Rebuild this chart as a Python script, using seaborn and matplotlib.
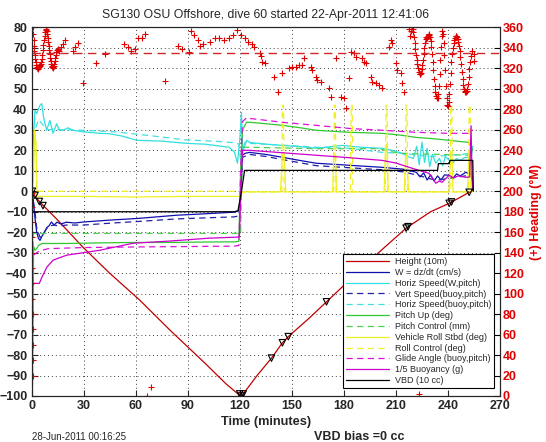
import matplotlib
matplotlib.use('Agg')
import matplotlib.pyplot as plt
import seaborn as sns

# Data
title_txt = 'SG130 OSU Offshore, dive 60 started 22-Apr-2011 12:41:06'
stamp_txt = '28-Jun-2011 00:16:25'
vbd_txt = 'VBD bias =0 cc'

height_t = [0, 1, 3, 6.6, 15, 29.6, 45, 62.4, 80, 100, 112, 119, 121, 122, 130, 138.3, 144.6, 148,
            160, 170, 185, 200, 215.9, 230, 240.7, 248, 252.2, 254]
height_v = [0, -1, -3.5, -6.8, -14, -27.3, -40, -53.2, -68, -84, -94, -99, -100, -99, -90, -81.5, -74, -71,
            -62, -54, -42, -30, -18, -10, -5.9, -2.5, -0.5, 0]
hmark_t = [0.5, 2, 4.5, 6.6, 120, 121, 122, 138.3, 144.6, 148, 170, 215.9, 217, 240.7, 242, 252.2]
hmark_v = [0, -2, -5, -7, -99, -100, -99, -81.5, -74, -71, -54, -18, -17.3, -5.9, -5.2, -0.5]

w_t = [0, 1, 2, 3, 4, 4.9, 6, 7.5, 8.9, 10, 11.5, 13, 14.7, 17, 20, 25, 30, 45, 62.4, 83.7, 100, 117,
       119.5, 120.5, 121.6, 123, 125.6, 135, 144.6, 155, 164, 183, 202, 214, 221.7, 224, 226, 228, 230,
       232, 234, 236, 238, 240.7, 243, 245, 247, 250.4, 252, 253.5, 254.3]
w_v = [0, -4, -13, -20, -23, -24, -22, -20, -17.6, -17, -15, -16.5, -15.1, -16, -15.1, -15.5, -15, -14.1,
       -13.2, -11.7, -11, -10.2, -9.5, -2, 17.6, 18.5, 19, 18, 16.6, 15, 13.7, 12.7, 11.7, 10.8, 9.3, 7,
       9, 5.5, 8, 5, 7.5, 5.5, 8, 7.8, 6.5, 8.5, 7.5, 9.3, 8.5, 9, 0]

hspd_t = [0, 0.5, 0.9, 2, 3, 4.9, 5.9, 7, 8.7, 10.6, 12.4, 14.5, 16, 18.1, 21, 24, 30, 39.4, 45, 52,
          60.7, 75, 89.4, 100, 114, 117, 118.7, 120, 121, 121.6, 124, 125.6, 135, 144.6, 155, 164, 179,
          190, 202, 208, 213.6, 217, 220, 222, 223.4, 225, 226.5, 228, 229.5, 231, 233, 235, 237, 238.5,
          240.7, 243, 245, 247, 249.5, 252, 253.5, 254.3]
hspd_v = [0, 8, 21.5, 39.5, 38, 42, 42.8, 36, 29.8, 34.6, 28.3, 33, 30, 29.8, 31, 29.8, 29, 28.3, 28.1,
          27, 24.9, 24.5, 23.4, 23, 21.5, 19, 13.7, 25, 38.5, 19, 24.9, 23.9, 23, 22.4, 21.8, 21, 22.4,
          21.5, 21, 20, 18.5, 17, 16, 22, 13, 24, 14, 21, 12, 18, 13.7, 16, 12.5, 17, 15.1, 14, 16, 15,
          16.5, 16.6, 17, 22]

vspd_t = [0, 2, 3, 4.9, 6, 8, 10, 13, 16, 20, 30, 45, 62.4, 83.7, 100, 117, 119.5, 120.5, 121.6, 125.6,
          135, 144.6, 164, 183, 202, 214, 221.7, 226, 230, 234, 238, 242, 246, 250, 253.5, 254.3]
vspd_v = [0, -10, -18, -22.5, -22, -19, -17, -16.5, -17, -16.5, -16.5, -15.6, -14.7, -13.5, -13, -12.5,
          -12, -4, 16.6, 18, 17, 15.5, 12.5, 11.5, 10.5, 9.5, 8, 7, 6, 5.5, 6, 6.5, 7, 7.5, 8, 0]

hbuoy_t = [0, 1, 2, 4, 6, 8, 10, 13, 16, 20, 30, 49, 70, 90, 105, 117, 119.5, 120.5, 121.6, 123, 125.6,
           145, 164, 183, 202, 215, 222, 230, 240.7, 248, 252, 254.3]
hbuoy_v = [0, 15, 30, 35, 33, 31, 30, 30.5, 30, 30, 29.8, 29, 27, 25, 24.5, 23.7, 23, 15, 20, 24, 23.4,
           22.5, 21.5, 21, 19, 18.5, 17.6, 17, 17.6, 18, 18.5, 20]

pitch_t = [0, 0.4, 1.2, 2, 3, 4, 6, 10, 20, 40, 60, 80, 100, 117, 119.5, 120.5, 121.6, 123.9, 125.6,
           135, 144.6, 155, 164, 183, 202, 212, 221.7, 230, 240.7, 247, 252, 254.3]
pitch_v = [40, -105, -27, -28.8, -28, -26.5, -25.5, -25.5, -25.5, -25.2, -25, -25, -24.8, -24.7, -24.5,
           10, 30, 33.7, 33.7, 33, 32.2, 31, 29.8, 28.8, 28.3, 27.5, 26.3, 25.8, 24.9, 24.3, 23.9, 20]

pctl_t = [0, 0.5, 1, 119.5, 120.5, 121.6, 125.6, 164, 183, 200, 212, 254.3]
pctl_v = [-105, -105, -20.6, -20.6, -20.6, 21.5, 21.5, 20.8, 20.8, 20.8, 18.5, 17.6]

roll_t = [0, 1, 1.8, 2.6, 3.2, 4, 10, 30, 60, 90, 117, 119.5, 121, 122.5, 125, 143.5, 144.5, 145.5,
          146.5, 173.5, 174.2, 175, 175.8, 203.2, 204, 204.8, 205.6, 214.8, 215.6, 216.4, 217.2, 240.6,
          241.4, 242.2, 243, 251.3, 252, 252.8, 253.5, 254.3]
roll_v = [0, 5, 30, 22, -3, -2.5, -2.5, -2.5, -2.8, -2.5, -2.5, -2.5, -1, -0.3, -0.3, -0.3, 18, 19,
          -0.3, -0.3, 19, 18, -0.3, -0.3, 22, 23, -0.3, -0.3, 17, 18, -0.3, -0.3, 19, 18, -0.3, -0.3,
          17, 18, -0.3, 0]

rctl_t = [0, 1, 1.5, 2.5, 3, 119.5, 121, 144.2, 144.6, 145.2, 145.6, 174.1, 174.5, 175.1, 175.5,
          183.8, 184.2, 184.8, 185.2, 203.9, 204.3, 204.9, 205.3, 215.4, 215.8, 216.4, 216.8, 241.2,
          241.6, 242.2, 242.6, 251.8, 252.2, 252.8, 253.2, 254.3]
rctl_v = [0, 0, 25, 25, 0, 0, -0.3, -0.3, 42, 42, -0.3, -0.3, 42, 42, -0.3, -0.3, 42, 42, -0.3, -0.3,
          42, 42, -0.3, -0.3, 42, 42, -0.3, -0.3, 42, 42, -0.3, -0.3, 42, 42, -0.3, -0.3]

glide_t = [0, 0.5, 1.5, 3, 5, 10, 30, 60, 90, 117, 119.5, 120.5, 121.6, 124, 125.6, 144.6, 164, 183,
           202, 221.7, 240.7, 252, 254.3]
glide_v = [0, -30, -31, -30, -29, -28, -27.5, -27.2, -27, -26.8, -26.5, 10, 34, 36, 35.6, 33.7, 32.2,
           30.7, 29.8, 28.8, 28.3, 28.3, 30]

buoy_t = [0, 0.6, 1.5, 4.5, 6, 8.9, 12.4, 16, 20.4, 30, 39.4, 58.4, 80, 102.6, 118.8, 119.8, 120.8,
          121.6, 125.6, 145, 164, 183, 202, 210, 217.6, 223, 229, 231, 233, 235, 236.6, 238.5, 240.7,
          243, 246, 250.4, 252.5, 253.3, 253.8, 254.3]
buoy_v = [40, -46, -45, -45, -42, -37, -33.7, -32.5, -31.2, -30, -28.8, -25.4, -24.3, -22.9, -22.4, -22,
          5, 20, 20, 18.8, 17.6, 16.4, 15.1, 13.8, 11.7, 10.3, 8.8, 6.5, 3.9, 5, 4.4, 6, 7.8, 6.5, 7.5,
          6.8, 7, 32, 10, 1.5]

vbd_t = [0, 0.7, 117, 119, 121, 122.8, 234, 234.5, 240.7, 241.2, 254.3, 254.6]
vbd_v = [30, -10, -10, -9.5, 0, 10.2, 10.2, 13.5, 13.5, 15.1, 15.1, 0]

# heading (right axis, degrees)
head_t = [0.2, 0.25, 0.3, 0.35, 0.4, 0.45, 0.5, 0.55, 0.6, 0.65, 0.7, 0.75, 0.8,
          0.9, 1.1, 1.3, 1.5, 1.7, 1.9, 2.1, 2.4, 2.7, 3.0, 3.3, 3.6, 3.9, 4.2, 4.5, 4.8, 5.1, 5.4,
          5.7, 6.0, 6.3, 6.6, 6.9, 7.2, 7.5, 7.8, 8.1, 8.4, 8.7, 9.0, 9.3, 9.6, 9.9, 10.2, 10.5, 10.8,
          11.1, 11.4, 11.7, 12.0, 12.3, 12.6, 12.9, 13.2, 13.5, 13.8, 14.1, 14.4, 14.7, 15.0, 15.4, 15.8,
          17.0, 18.1, 19.3, 23.9, 25.0, 26.7, 29.6, 37.1, 42.3, 53.2, 55.5, 57.2, 59.5, 61.2, 63.5, 65.3,
          66.4, 69.0, 76.8, 84.2, 86.5, 90.6, 91.7, 93.4, 95.7, 96.9, 98.6, 102.6, 105.5, 107.8, 110.7,
          113.6, 115.9, 118.7, 120.5, 122.8, 124.5, 126.8, 128.5, 131.4, 132.0, 133.1, 134.8, 140.0,
          141.8, 144.6, 148.6, 150.4, 152.7, 154.4, 156.1, 157.3, 161.3, 161.9, 164.2, 164.8, 167.0,
          171.6, 172.8, 175.7, 178.5, 180.3, 181.4, 183.2, 184.3, 186.0, 187.2, 190.6, 191.8, 192.9,
          195.8, 196.4, 198.7, 200.4, 202.1, 206.1, 207.3, 207.9, 210.2, 210.8, 213.1, 213.6, 214.8,
          217.6, 218.4, 218.8, 219.2, 219.6, 220.0, 220.4, 220.8, 221.2, 221.6, 222.0, 222.4, 222.8,
          223.2, 223.4, 223.6, 224.0, 224.4, 224.8, 225.2, 225.6, 226.0, 226.4, 226.8, 227.2, 227.6,
          228.0, 228.4, 228.8, 229.2, 229.6, 230.0, 230.4, 230.8, 231.2, 231.6, 232.0, 232.4, 232.8,
          233.2, 233.6, 234.0, 234.4, 234.8, 235.2, 235.6, 236.0, 236.4, 236.8, 237.2, 237.6, 238.0,
          238.4, 238.8, 239.2, 239.6, 240.0, 240.4, 240.8, 241.2, 241.6, 242.0, 242.4, 242.8, 243.2,
          243.6, 244.0, 244.4, 244.8, 245.2, 245.6, 246.0, 246.4, 246.8, 247.2, 247.6, 248.0, 248.4,
          248.8, 249.2, 249.6, 250.0, 250.4, 250.8, 251.2, 251.6, 252.0, 252.4, 252.8, 253.2, 253.6,
          254.8, 254.9]
head_v = [198, 185, 170, 155, 140, 125, 110, 95, 80, 65, 50, 35, 20,
          360, 354, 348, 342, 337, 333, 329, 326, 323, 321, 320, 319, 320, 321, 322, 322, 323, 324,
          326, 329, 333, 338, 343, 348, 352, 356, 358, 359, 357, 354, 350, 346, 342, 338, 334, 330,
          327, 324, 322, 321, 320, 321, 322, 324, 327, 330, 333, 336, 338, 339, 338, 337,
          340.5, 343.4, 347.3, 336.6, 340.5, 344.4, 305.4, 324.9, 333.7, 343.4, 340.5, 336.6, 338.5,
          349.3, 350.2, 354.1, 0, 8.8, 308, 342.4, 338.5, 335.6, 356.1, 352.2, 347.3, 342.4, 343.4,
          345.4, 349.3, 349.3, 347.3, 349.3, 352.2, 357.1, 352.2, 349.3, 345.4, 343.4, 340.5, 334.6,
          331.7, 325.9, 324.9, 311.2, 296.6, 315.1, 320.0, 321.0, 321.0, 322.9, 322.9, 329.8, 321.0,
          318.0, 311.2, 308.3, 306.3, 300.5, 291.7, 329.8, 291.7, 290.7, 281.0, 310.2, 335.6, 334.6,
          330.7, 329.8, 325.9, 324.9, 311.2, 306.3, 305.4, 303.4, 300.5, 340.5, 347.3, 344.4, 324.9,
          318.0, 315.1, 305.4, 296.6, 359.0, 352, 357, 360, 359, 356, 351, 345, 339, 333, 328, 324,
          320, 317, 2, 315, 315, 316, 319, 323, 328, 334, 340, 345, 349, 351, 350, 352, 354, 353, 351,
          347, 341, 334, 326, 318, 310, 303, 297, 293, 291, 291, 295, 303, 315, 328, 341, 352, 357,
          354, 345, 333, 318, 303, 291, 284, 283, 287, 295, 305, 316, 326, 334, 340, 345, 348, 350,
          352, 352, 351, 349, 346, 342, 337, 331, 324, 317, 310, 304, 300, 298, 297, 297, 298, 300,
          305, 312, 319, 326, 332, 337, 334, 327]
head_target = 335

# Plot
sns.set_style('ticks')
plt.rcParams['font.family'] = ['Liberation Sans', 'DejaVu Sans']

fig = plt.figure(figsize=(5.46, 4.42), dpi=100)
ax = fig.add_axes([0.0577, 0.1041, 0.8581, 0.8337])

lw = 0.9
dash = (0, (5, 3.5))
series = [
    (height_t, height_v, '#C00000', '-', 'Height (10m)'),
    (w_t, w_v, '#1010B0', '-', 'W = dz/dt (cm/s)'),
    (hspd_t, hspd_v, '#30E0E0', '-', 'Horiz Speed(W,pitch)'),
    (vspd_t, vspd_v, '#2020A8', dash, 'Vert Speed(buoy,pitch)'),
    (hbuoy_t, hbuoy_v, '#40E0E0', dash, 'Horiz Speed(buoy,pitch)'),
    (pitch_t, pitch_v, '#30C830', '-', 'Pitch Up (deg)'),
    (pctl_t, pctl_v, '#50D050', dash, 'Pitch Control (mm)'),
    (roll_t, roll_v, '#F0F020', '-', 'Vehicle Roll Stbd (deg)'),
    (rctl_t, rctl_v, '#F0F020', dash, 'Roll Control (deg)'),
    (glide_t, glide_v, '#DD10DD', dash, 'Glide Angle (buoy,pitch)'),
    (buoy_t, buoy_v, '#CC00CC', '-', '1/5 Buoyancy (g)'),
    (vbd_t, vbd_v, 'black', '-', 'VBD (10 cc)'),
]
for t, v, c, ls, lab in series:
    sns.lineplot(x=t, y=v, ax=ax, color=c, linestyle=ls, lw=lw, label=lab,
                 estimator=None, sort=False)

sns.scatterplot(x=hmark_t, y=hmark_v, ax=ax, marker='v', s=22, facecolor='none',
                edgecolor='black', linewidth=0.8, zorder=5)

ax.set_xlim(0, 270)
ax.set_ylim(-100, 80)
ax.set_xticks(range(0, 271, 30))
ax.set_yticks(range(-100, 81, 10))
ax.grid(True, ls=(0, (1, 3)), color='#404040', lw=0.7)
ax.tick_params(direction='in', length=4, width=0.8, labelsize=9, pad=3)
for lbl in ax.get_xticklabels() + ax.get_yticklabels():
    lbl.set_fontweight('bold')
ax.set_xlabel('Time (minutes)', fontsize=9.2, fontweight='bold', labelpad=3)
ax.set_ylabel('')
ax.set_title(title_txt, fontsize=8.8, pad=7)
for sp in ax.spines.values():
    sp.set_visible(True)
    sp.set_linewidth(0.8)
    sp.set_color('black')

handles, labels = ax.get_legend_handles_labels()
ax.get_legend().remove()

# heading on right axis
ax2 = ax.twinx()
ax2.axhline(head_target, color='#D02828', lw=1.0, linestyle=(0, (6, 4)))
sns.scatterplot(x=head_t, y=head_v, ax=ax2, marker='+', s=14, color='#E00000', linewidth=0.8)
ax2.set_ylim(0, 360)
ax2.set_yticks(range(0, 361, 20))
ax2.tick_params(direction='in', length=4, width=0.8, labelsize=9, pad=2, colors='black',
                labelcolor='#E00000')
for lbl in ax2.get_yticklabels():
    lbl.set_fontweight('bold')
ax2.set_ylabel('(+) Heading (\u00b0M)', color='#E00000', fontsize=9, fontweight='bold', labelpad=4)

leg = ax2.legend(handles, labels, loc='lower right', bbox_to_anchor=(0.988, 0.021), fontsize=6.5,
                 frameon=True, fancybox=False, framealpha=1, edgecolor='black', borderpad=0.35,
                 labelspacing=0.2, handlelength=4.8, handletextpad=0.6, borderaxespad=0)
leg.get_frame().set_linewidth(0.8)

fig.text(31.5 / 546, 1 - 437 / 442, stamp_txt, fontsize=7, va='center', ha='left')
fig.text(314 / 546, 1 - 437 / 442, vbd_txt, fontsize=9, fontweight='bold', va='center', ha='left')

plt.savefig('out.png', dpi=100)
plt.close()
